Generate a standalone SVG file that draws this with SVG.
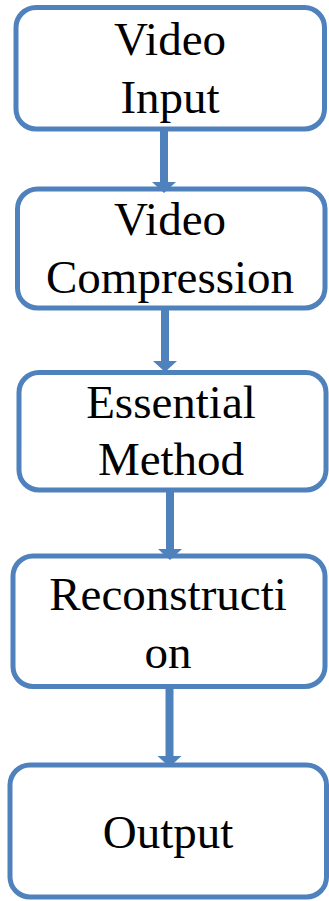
<svg xmlns="http://www.w3.org/2000/svg" width="329" height="901" viewBox="0 0 329 901">
<style>
.box{fill:#ffffff;stroke:#4F81BD;stroke-width:5}
.lbl{font-family:'Liberation Serif','Times New Roman',serif;font-size:47px;fill:#000000;text-anchor:middle}
.conn{stroke:#4F81BD;stroke-width:8;fill:none}
</style>
<defs>
<marker id="ah" markerUnits="userSpaceOnUse" viewBox="0 -13 11 26" refX="0" refY="0" markerWidth="11" markerHeight="26" orient="auto">
<path d="M0,-12 L11,0 L0,12 z" fill="#4F81BD"/>
</marker>
</defs>
<rect width="329" height="901" fill="#ffffff"/>
<g id="node-video-input">
<rect class="box" x="16" y="7.5" width="308.5" height="121.5" rx="20"/>
<text class="lbl" x="170" y="55">Video</text>
<text class="lbl" x="170" y="113">Input</text>
</g>
<g id="node-video-compression">
<rect class="box" x="17.5" y="189" width="307.5" height="119" rx="20"/>
<text class="lbl" x="170" y="235">Video</text>
<text class="lbl" x="170" y="293">Compression</text>
</g>
<g id="node-essential-method">
<rect class="box" x="19" y="372.5" width="307" height="117.5" rx="20"/>
<text class="lbl" x="171" y="418">Essential</text>
<text class="lbl" x="171" y="475">Method</text>
</g>
<g id="node-reconstruction">
<rect class="box" x="13" y="556" width="312" height="130.5" rx="20"/>
<text class="lbl" x="168" y="610">Reconstructi</text>
<text class="lbl" x="168" y="668">on</text>
</g>
<g id="node-output">
<rect class="box" x="10" y="765" width="316.5" height="132" rx="20"/>
<text class="lbl" x="168" y="848">Output</text>
</g>
<g id="connectors">
<line class="conn" x1="164" y1="129" x2="164" y2="182" marker-end="url(#ah)"/>
<line class="conn" x1="165" y1="308" x2="165" y2="361" marker-end="url(#ah)"/>
<line class="conn" x1="170" y1="490" x2="170" y2="549" marker-end="url(#ah)"/>
<line class="conn" x1="169.5" y1="686.5" x2="169.5" y2="756" marker-end="url(#ah)"/>
</g>
</svg>
